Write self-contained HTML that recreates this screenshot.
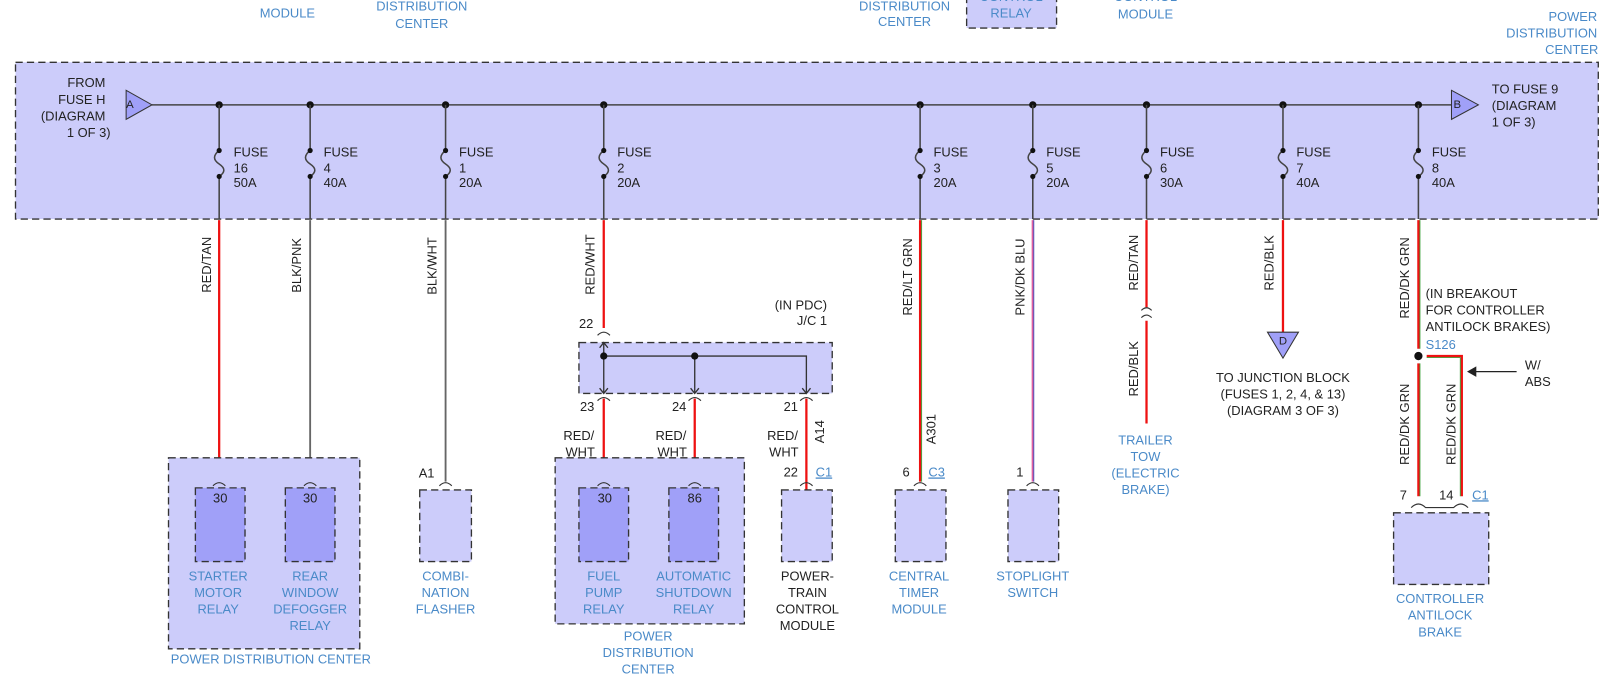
<!DOCTYPE html>
<html><head><meta charset="utf-8"><style>
html,body{margin:0;padding:0;background:#fff;}
svg{display:block;}
text{font-family:"Liberation Sans",Arial,sans-serif;font-size:12.5px;fill:#222;}
.b{fill:#4a8ac8;}
.m{text-anchor:middle;}
.e{text-anchor:end;}
.box{fill:#ccccfa;stroke:#333;stroke-width:1.3;stroke-dasharray:7,4;}
.rel{fill:#a0a0f8;stroke:#333;stroke-width:1.3;stroke-dasharray:7,4;}
.bus{stroke:#444;stroke-width:1.5;fill:none;}
.red{stroke:#ee1111;stroke-width:2.2;fill:none;}
.gry{stroke:#666;stroke-width:1.8;fill:none;}
.con{stroke:#333;stroke-width:1.1;fill:none;}
</style></head><body>
<svg width="1620" height="682" viewBox="0 0 1567 657" preserveAspectRatio="none" xmlns="http://www.w3.org/2000/svg">
<text class="b m" x="278" y="-2">CONTROL</text><text class="b m" x="278" y="17">MODULE</text>
<text class="b m" x="408" y="10">DISTRIBUTION</text><text class="b m" x="408" y="27">CENTER</text>
<text class="b m" x="605" y="0">OUTLET</text>
<text class="b m" x="875" y="10">DISTRIBUTION</text><text class="b m" x="875" y="25">CENTER</text>
<rect class="box" x="935" y="-6" width="87" height="33"/>
<text class="b m" x="978" y="1">CONTROL</text><text class="b m" x="978" y="17">RELAY</text>
<text class="b m" x="1108" y="1">CONTROL</text><text class="b m" x="1108" y="18">MODULE</text>
<text class="b e" x="1545" y="20">POWER</text><text class="b e" x="1545" y="36">DISTRIBUTION</text><text class="b e" x="1546" y="52">CENTER</text>
<rect class="box" x="15" y="60" width="1531" height="151"/>
<text class="e" x="102" y="84">FROM</text><text class="e" x="102" y="100">FUSE H</text><text class="e" x="102" y="116">(DIAGRAM</text><text class="e" x="107" y="132">1 OF 3)</text>
<line class="bus" x1="147" y1="101" x2="1404" y2="101"/>
<polygon points="122,87 147,101 122,115" fill="#a0a0f8" stroke="#333"/><text x="122" y="104" style="font-size:11px">A</text>
<polygon points="1404,87 1430,101 1404,115" fill="#a0a0f8" stroke="#333"/><text x="1406" y="104" style="font-size:11px">B</text>
<text x="1443" y="90">TO FUSE 9</text><text x="1443" y="106">(DIAGRAM</text><text x="1443" y="122">1 OF 3)</text>
<g fill="#111">
<circle cx="212" cy="101" r="3.5"/><circle cx="300" cy="101" r="3.5"/><circle cx="431" cy="101" r="3.5"/><circle cx="584" cy="101" r="3.5"/><circle cx="890" cy="101" r="3.5"/><circle cx="999" cy="101" r="3.5"/><circle cx="1109" cy="101" r="3.5"/><circle cx="1241" cy="101" r="3.5"/><circle cx="1372" cy="101" r="3.5"/>
</g>
<g class="bus">
<path d="M212 101V145 q-9 7 0 13 q9 6 0 12 V211"/>
<path d="M300 101V145 q-9 7 0 13 q9 6 0 12 V211"/>
<path d="M431 101V145 q-9 7 0 13 q9 6 0 12 V211"/>
<path d="M584 101V145 q-9 7 0 13 q9 6 0 12 V211"/>
<path d="M890 101V145 q-9 7 0 13 q9 6 0 12 V211"/>
<path d="M999 101V145 q-9 7 0 13 q9 6 0 12 V211"/>
<path d="M1109 101V145 q-9 7 0 13 q9 6 0 12 V211"/>
<path d="M1241 101V145 q-9 7 0 13 q9 6 0 12 V211"/>
<path d="M1372 101V145 q-9 7 0 13 q9 6 0 12 V211"/>
</g>
<g fill="#111">
<circle cx="212" cy="145" r="2.5"/><circle cx="212" cy="170" r="2.5"/>
<circle cx="300" cy="145" r="2.5"/><circle cx="300" cy="170" r="2.5"/>
<circle cx="431" cy="145" r="2.5"/><circle cx="431" cy="170" r="2.5"/>
<circle cx="584" cy="145" r="2.5"/><circle cx="584" cy="170" r="2.5"/>
<circle cx="890" cy="145" r="2.5"/><circle cx="890" cy="170" r="2.5"/>
<circle cx="999" cy="145" r="2.5"/><circle cx="999" cy="170" r="2.5"/>
<circle cx="1109" cy="145" r="2.5"/><circle cx="1109" cy="170" r="2.5"/>
<circle cx="1241" cy="145" r="2.5"/><circle cx="1241" cy="170" r="2.5"/>
<circle cx="1372" cy="145" r="2.5"/><circle cx="1372" cy="170" r="2.5"/>
</g>
<text x="226" y="151">FUSE</text><text x="226" y="166">16</text><text x="226" y="180">50A</text>
<text x="313" y="151">FUSE</text><text x="313" y="166">4</text><text x="313" y="180">40A</text>
<text x="444" y="151">FUSE</text><text x="444" y="166">1</text><text x="444" y="180">20A</text>
<text x="597" y="151">FUSE</text><text x="597" y="166">2</text><text x="597" y="180">20A</text>
<text x="903" y="151">FUSE</text><text x="903" y="166">3</text><text x="903" y="180">20A</text>
<text x="1012" y="151">FUSE</text><text x="1012" y="166">5</text><text x="1012" y="180">20A</text>
<text x="1122" y="151">FUSE</text><text x="1122" y="166">6</text><text x="1122" y="180">30A</text>
<text x="1254" y="151">FUSE</text><text x="1254" y="166">7</text><text x="1254" y="180">40A</text>
<text x="1385" y="151">FUSE</text><text x="1385" y="166">8</text><text x="1385" y="180">40A</text>
<line class="red" x1="212" y1="212" x2="212" y2="464"/>
<line class="gry" x1="300" y1="212" x2="300" y2="464"/>
<line class="gry" x1="431" y1="212" x2="431" y2="464"/>
<line class="red" x1="584" y1="212" x2="584" y2="316"/>
<line class="red" x1="890" y1="212" x2="890" y2="464"/><line x1="891.5" y1="212" x2="891.5" y2="464" stroke="#2a9a2a" stroke-width="0.8"/>
<line x1="999" y1="212" x2="999" y2="464" stroke="#e060a0" stroke-width="2.2"/><line x1="1000" y1="212" x2="1000" y2="464" stroke="#3050c0" stroke-width="0.8"/>
<line class="red" x1="1109" y1="212" x2="1109" y2="296"/>
<path class="con" d="M1104 299 q5 -5 10 0 M1104 306 q5 -5 10 0"/>
<line class="red" x1="1109" y1="309" x2="1109" y2="408"/>
<line class="red" x1="1241" y1="212" x2="1241" y2="320"/>
<polygon points="1226,320 1256,320 1241,345" fill="#a0a0f8" stroke="#333"/><text class="m" x="1241" y="332" style="font-size:11px">D</text>
<line class="red" x1="1372" y1="212" x2="1372" y2="336"/><line x1="1373.5" y1="212" x2="1373.5" y2="336" stroke="#2a9a2a" stroke-width="0.8"/>
<g>
<text transform="translate(204,282) rotate(-90)">RED/TAN</text>
<text transform="translate(291,282) rotate(-90)">BLK/PNK</text>
<text transform="translate(422,284) rotate(-90)">BLK/WHT</text>
<text transform="translate(575,284) rotate(-90)">RED/WHT</text>
<text transform="translate(882,304) rotate(-90)">RED/LT GRN</text>
<text transform="translate(991,304) rotate(-90)">PNK/DK BLU</text>
<text transform="translate(1101,280) rotate(-90)">RED/TAN</text>
<text transform="translate(1101,382) rotate(-90)">RED/BLK</text>
<text transform="translate(1232,280) rotate(-90)">RED/BLK</text>
<text transform="translate(1363,307) rotate(-90)">RED/DK GRN</text>
<text transform="translate(1363,448) rotate(-90)">RED/DK GRN</text>
<text transform="translate(1408,448) rotate(-90)">RED/DK GRN</text>
<text transform="translate(905,428) rotate(-90)">A301</text>
<text transform="translate(797,427) rotate(-90)">A14</text>
</g>
<text class="b m" x="1108" y="428">TRAILER</text><text class="b m" x="1108" y="444">TOW</text><text class="b m" x="1108" y="460">(ELECTRIC</text><text class="b m" x="1108" y="476">BRAKE)</text>
<text class="m" x="1241" y="368">TO JUNCTION BLOCK</text><text class="m" x="1241" y="384">(FUSES 1, 2, 4, &amp; 13)</text><text class="m" x="1241" y="400">(DIAGRAM 3 OF 3)</text>
<text x="1379" y="287">(IN BREAKOUT</text><text x="1379" y="303">FOR CONTROLLER</text><text x="1379" y="319">ANTILOCK BRAKES)</text>
<text class="b" x="1379" y="336">S126</text>
<circle cx="1372" cy="343" r="4" fill="#111"/>
<line class="red" x1="1372" y1="350" x2="1372" y2="478"/><line x1="1373.5" y1="350" x2="1373.5" y2="478" stroke="#2a9a2a" stroke-width="0.8"/>
<path class="red" d="M1380 343 H1414 V478"/><path d="M1380 344.5 H1412.5 V478" stroke="#2a9a2a" stroke-width="0.8" fill="none"/>
<line x1="1467" y1="358" x2="1424" y2="358" stroke="#222" stroke-width="1.2"/><polygon points="1419,358 1428,353 1428,363" fill="#222"/>
<text x="1475" y="356">W/</text><text x="1475" y="372">ABS</text>
<text x="1354" y="481">7</text><text x="1392" y="481">14</text><text class="b" x="1424" y="481" style="text-decoration:underline">C1</text>
<path class="con" d="M1365 489 q7 -7 14 0 H1406 q7 -7 14 0"/>
<rect class="box" x="1348" y="494" width="92" height="69"/>
<text class="b m" x="1393" y="581">CONTROLLER</text><text class="b m" x="1393" y="597">ANTILOCK</text><text class="b m" x="1393" y="613">BRAKE</text>
<text class="e" x="800" y="298">(IN PDC)</text><text class="e" x="800" y="313">J/C 1</text>
<text x="560" y="316">22</text>
<path class="con" d="M578 323 q6 -6 12 0"/>
<rect class="box" x="560" y="330" width="245" height="49"/>
<g stroke="#333" stroke-width="1.3" fill="none">
<path d="M584 330 V379 M584 343 H780 V379 M672 343 V379"/>
<path d="M580 335 l4 -5 4 5 M580 374 l4 5 4 -5 M668 374 l4 5 4 -5 M776 374 l4 5 4 -5"/>
</g>
<circle cx="584" cy="343" r="3.5" fill="#111"/><circle cx="672" cy="343" r="3.5" fill="#111"/>
<path class="con" d="M578 386 q6 -6 12 0 M666 386 q6 -6 12 0 M774 386 q6 -6 12 0"/>
<text x="561" y="396">23</text><text x="650" y="396">24</text><text x="758" y="396">21</text>
<line class="red" x1="584" y1="384" x2="584" y2="484"/>
<line class="red" x1="672" y1="384" x2="672" y2="484"/>
<line class="red" x1="780" y1="384" x2="780" y2="484"/>
<text x="545" y="424">RED/</text><text x="547" y="440">WHT</text>
<text x="634" y="424">RED/</text><text x="636" y="440">WHT</text>
<text x="742" y="424">RED/</text><text x="744" y="440">WHT</text>
<rect class="box" x="163" y="441" width="185" height="184"/>
<path class="con" d="M206 468 q6 -6 12 0 M294 468 q6 -6 12 0"/>
<rect class="rel" x="189" y="470" width="48" height="71"/><rect class="rel" x="276" y="470" width="48" height="71"/>
<text class="m" x="213" y="484">30</text><text class="m" x="300" y="484">30</text>
<text class="b m" x="211" y="559">STARTER</text><text class="b m" x="211" y="575">MOTOR</text><text class="b m" x="211" y="591">RELAY</text>
<text class="b m" x="300" y="559">REAR</text><text class="b m" x="300" y="575">WINDOW</text><text class="b m" x="300" y="591">DEFOGGER</text><text class="b m" x="300" y="607">RELAY</text>
<text class="b m" x="262" y="639">POWER DISTRIBUTION CENTER</text>
<text x="405" y="460">A1</text>
<path class="con" d="M425 468 q6 -6 12 0"/>
<rect class="box" x="406" y="472" width="50" height="69"/>
<text class="b m" x="431" y="559">COMBI-</text><text class="b m" x="431" y="575">NATION</text><text class="b m" x="431" y="591">FLASHER</text>
<rect class="box" x="537" y="441" width="183" height="160"/>
<path class="con" d="M578 468 q6 -6 12 0 M666 468 q6 -6 12 0"/>
<rect class="rel" x="560" y="470" width="48" height="71"/><rect class="rel" x="647" y="470" width="48" height="71"/>
<text class="m" x="585" y="484">30</text><text class="m" x="672" y="484">86</text>
<text class="b m" x="584" y="559">FUEL</text><text class="b m" x="584" y="575">PUMP</text><text class="b m" x="584" y="591">RELAY</text>
<text class="b m" x="671" y="559">AUTOMATIC</text><text class="b m" x="671" y="575">SHUTDOWN</text><text class="b m" x="671" y="591">RELAY</text>
<text class="b m" x="627" y="617">POWER</text><text class="b m" x="627" y="633">DISTRIBUTION</text><text class="b m" x="627" y="649">CENTER</text>
<text x="758" y="459">22</text><text class="b" x="789" y="459" style="text-decoration:underline">C1</text>
<path class="con" d="M774 468 q6 -6 12 0"/>
<rect class="box" x="756" y="472" width="49" height="69"/>
<text class="m" x="781" y="559">POWER-</text><text class="m" x="781" y="575">TRAIN</text><text class="m" x="781" y="591">CONTROL</text><text class="m" x="781" y="607">MODULE</text>
<text x="873" y="459">6</text><text class="b" x="898" y="459" style="text-decoration:underline">C3</text>
<path class="con" d="M884 468 q6 -6 12 0"/>
<rect class="box" x="866" y="472" width="49" height="69"/>
<text class="b m" x="889" y="559">CENTRAL</text><text class="b m" x="889" y="575">TIMER</text><text class="b m" x="889" y="591">MODULE</text>
<text x="983" y="459">1</text>
<path class="con" d="M993 468 q6 -6 12 0"/>
<rect class="box" x="975" y="472" width="49" height="69"/>
<text class="b m" x="999" y="559">STOPLIGHT</text><text class="b m" x="999" y="575">SWITCH</text>
</svg>
</body></html>
